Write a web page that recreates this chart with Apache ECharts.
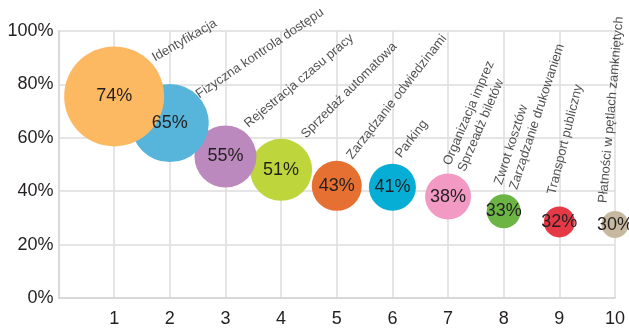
<!DOCTYPE html>
<html><head><meta charset="utf-8">
<script src="https://cdn.jsdelivr.net/npm/echarts@6/dist/echarts.min.js"></script>
<style>html,body{margin:0;padding:0;background:#fff}#c{width:629px;height:328px}</style>
</head><body><div id="c"></div>
<script>
// data
var xIndex = [1, 2, 3, 4, 5, 6, 7, 8, 9, 10];
var percentLabels = [74, 65, 55, 51, 43, 41, 38, 33, 32, 30];
var yPosition = [75.5, 65.5, 53, 48, 42, 41.5, 38, 32.5, 28.5, 27.5];
var bubbleSizes = [100, 78, 62, 62, 50, 47, 46, 34, 31, 27];
var categories = [
  'Identyfikacja',
  'Fizyczna kontrola dostępu',
  'Rejestracja czasu pracy',
  'Sprzedaż automatowa',
  'Zarządzanie odwiedzinami',
  'Parking',
  'Organizacja imprez\nSprzeadż biletów',
  'Zwrot kosztów\nZarządzanie drukowaniem',
  'Transport publiczny',
  'Płatności w pętlach zamkniętych'
];
var colors = ['#FCB962', '#57B5DB', '#BB89BD', '#BED63B', '#E66F32', '#06AED6', '#F39AC4', '#6CB544', '#E53A45', '#C7B9A0'];
var yTicks = [0, 20, 40, 60, 80, 100];
// label placement (styling)
var labelAngle = [30, 34, 40, 45, 52, 52, 67, 72, 76, 85];
var labelOffset = [[43, -31], [32, -21], [26, -25], [28, -28], [19, -23.5], [12, -26], [21, -22.5], [17.5, -19.5], [0, -25.6], [-4, -21]];

var FONT = '"Liberation Sans", Arial, sans-serif';
var bubbleData = [], labelData = [];
for (var i = xIndex.length - 1; i >= 0; i--) {
  bubbleData.push({
    value: [xIndex[i], yPosition[i]],
    symbolSize: bubbleSizes[i],
    itemStyle: { color: colors[i], opacity: 1 },
    label: { formatter: percentLabels[i] + '%' }
  });
}
for (var j = 0; j < xIndex.length; j++) {
  labelData.push({
    value: [xIndex[j], yPosition[j]],
    label: {
      formatter: categories[j],
      rotate: labelAngle[j],
      position: [0.5 + labelOffset[j][0], 0.5 + labelOffset[j][1]]
    }
  });
}

var chart = echarts.init(document.getElementById('c'), null, { renderer: 'canvas' });
chart.setOption({
  animation: false,
  backgroundColor: '#ffffff',
  grid: { left: 58.5, right: 14, top: 31, bottom: 28, containLabel: false },
  xAxis: {
    type: 'value', min: 0, max: 10, interval: 1,
    axisLine: { show: true, lineStyle: { color: '#d4d4d4', width: 1.5 } },
    axisTick: { show: false },
    splitLine: { show: true, lineStyle: { color: '#dcdcdc', width: 1.5 } },
    axisLabel: { margin: 12, color: '#231f20', fontSize: 18, fontFamily: FONT,
      formatter: function (v) { return v === 0 ? '' : String(v); } }
  },
  yAxis: {
    type: 'value', min: yTicks[0], max: yTicks[yTicks.length - 1], interval: 20,
    axisLine: { show: true, lineStyle: { color: '#d4d4d4', width: 1.5 } },
    axisTick: { show: false },
    splitLine: { show: true, lineStyle: { color: '#dcdcdc', width: 1.5 } },
    axisLabel: { margin: 5, color: '#231f20', fontSize: 18, fontFamily: FONT, formatter: '{value}%' }
  },
  series: [
    {
      type: 'scatter', silent: true, z: 3,
      data: bubbleData,
      itemStyle: { opacity: 1 },
      label: { show: true, position: 'inside', color: '#231f20', fontSize: 18, fontFamily: FONT },
      emphasis: { disabled: true }
    },
    {
      type: 'scatter', silent: true, z: 4,
      symbolSize: 1,
      itemStyle: { color: 'rgba(0,0,0,0)' },
      data: labelData,
      label: { show: true, align: 'left', verticalAlign: 'bottom', color: '#231f20',
        fontSize: 13, lineHeight: 16, fontFamily: FONT },
      emphasis: { disabled: true }
    }
  ]
});
</script></body></html>
